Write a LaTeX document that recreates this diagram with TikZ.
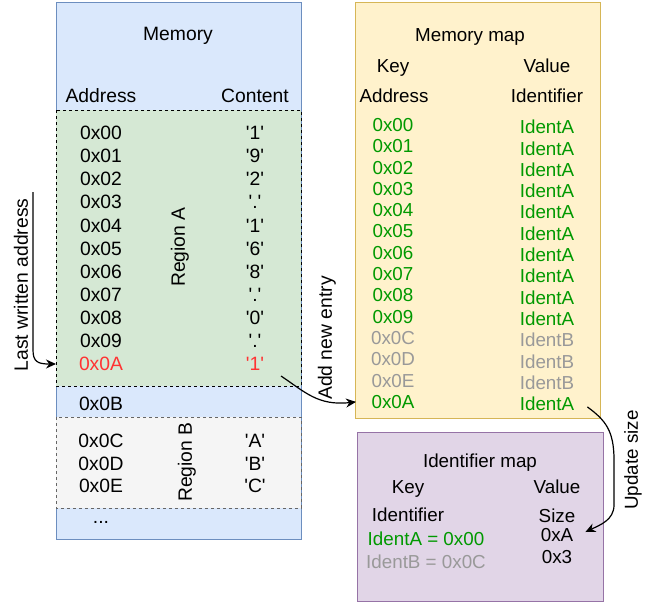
\documentclass[tikz,border=0pt]{standalone}
\usepackage{fontspec}
\setmainfont{Liberation Sans}
\usetikzlibrary{calc,positioning,arrows.meta}
\usepackage{xcolor}
\definecolor{memfill}{HTML}{DAE8FC}
\definecolor{memline}{HTML}{6C8EBF}
\definecolor{regafill}{HTML}{D5E8D4}
\definecolor{regbfill}{HTML}{F5F5F5}
\definecolor{regbline}{HTML}{666666}
\definecolor{mapfill}{HTML}{FFF2CC}
\definecolor{mapline}{HTML}{D6B656}
\definecolor{idfill}{HTML}{E1D5E7}
\definecolor{idline}{HTML}{9673A6}
\definecolor{identa}{HTML}{009900}
\definecolor{identb}{HTML}{999999}
\definecolor{lastred}{HTML}{FF3333}
\newcommand{\sq}{\textquotesingle}

\tikzset{
  txt/.style={inner sep=0pt, font=\fontsize{19.3}{22}\selectfont},
  mtxt/.style={inner sep=0pt, font=\fontsize{18.8}{22}\selectfont},
  flow/.style={line width=1.2pt, -{Stealth[length=10pt,width=9pt]}}
}

\begin{document}
\begin{tikzpicture}[x=1pt,y=-1pt]
\useasboundingbox (0,0) rectangle (652,602);

% Memory column with its two dashed regions
\draw[line width=1pt, draw=memline, fill=memfill] (56,3) rectangle (301,539);
\draw[line width=1pt, dashed, fill=regafill] (56,110) rectangle (301,386);
\draw[line width=1pt, dashed, draw=regbline, fill=regbfill] (56,417) rectangle (301,508);
\coordinate (memwest) at (56,0);
\coordinate (mapwest) at (356,0);

\node[txt] (memtitle) at (178,36) {Memory};
\node[txt] (memaddr) at (101,96) {Address};
\node[txt] (memcont) at (255,96) {Content};

% Region A cells
\foreach \k/\a/\c in {0/0x00/1,1/0x01/9,2/0x02/2,3/0x03/.,4/0x04/1,
                      5/0x05/6,6/0x06/8,7/0x07/.,8/0x08/0,9/0x09/.} {
  \node[txt] (addr\k) at (101,133+23.1*\k) {\a};
  \node[txt] (cont\k) at (255,133+23.1*\k) {\sq\c\sq};
}
\node[txt, text=lastred] (addrlast) at (101,364) {0x0A};
\node[txt, text=lastred] (contlast) at (255,364) {\sq1\sq};
\node[txt, rotate=90] (rega) at (180,247) {Region A};

\node[txt] (addrfree) at (101,404) {0x0B};

% Region B cells
\node[txt] (addrb0) at (101,441) {0x0C};
\node[txt] (addrb1) at (101,463.5) {0x0D};
\node[txt] (addrb2) at (101,486) {0x0E};
\node[txt] (contb0) at (255,441) {\sq A\sq};
\node[txt] (contb1) at (255,463.5) {\sq B\sq};
\node[txt] (contb2) at (255,486) {\sq C\sq};
\node[txt, rotate=90] (regb) at (187,462) {Region B};
\node[txt] (memdots) at (101,522) {...};

% Memory map
\draw[line width=1pt, draw=mapline, fill=mapfill] (355,3) rectangle (600,418);
\node[mtxt] (maptitle) at (470,37) {Memory map};
\node[mtxt] (mapkey) at (393,68) {Key};
\node[mtxt] (mapval) at (547,66) {Value};
\node[mtxt] (mapaddr) at (394,96) {Address};
\node[mtxt] (mapident) at (547,96) {Identifier};
\foreach \k/\a/\v/\col in {0/0x00/IdentA/identa,1/0x01/IdentA/identa,2/0x02/IdentA/identa,
                           3/0x03/IdentA/identa,4/0x04/IdentA/identa,5/0x05/IdentA/identa,
                           6/0x06/IdentA/identa,7/0x07/IdentA/identa,8/0x08/IdentA/identa,
                           9/0x09/IdentA/identa,10/0x0C/IdentB/identb,11/0x0D/IdentB/identb,
                           12/0x0E/IdentB/identb,13/0x0A/IdentA/identa} {
  \node[mtxt, text=\col] (mkey\k) at (393,125+21.3*\k) {\a};
  \node[mtxt, text=\col] (mval\k) at (547,127+21.3*\k) {\v};
}

% Identifier map
\draw[line width=1pt, draw=idline, fill=idfill] (357,432) rectangle (603,601);
\node[mtxt] (idtitle) at (480,463) {Identifier map};
\node[mtxt] (idkey) at (408,489) {Key};
\node[mtxt] (idval) at (557,487) {Value};
\node[mtxt] (idident) at (408,515) {Identifier};
\node[mtxt] (idsize) at (557,516) {Size};
\node[mtxt, text=identa] (ida) at (426,539) {IdentA = 0x00};
\node[mtxt, text=identb] (idb) at (426,562) {IdentB = 0x0C};
\node[mtxt] (sizea) at (557,535) {0xA};
\node[mtxt] (sizeb) at (557,557) {0x3};

% Arrows
\coordinate (lwstart) at (33,192);
\draw[flow] (lwstart) -- (33,350) .. controls (33,362) and (38,364) .. (addrlast -| memwest);
\node[txt, rotate=90] (lwlabel) at (21,285) {Last written address};

\coordinate (addstart) at ($(contlast)+(26,12)$);
\draw[flow] (addstart) .. controls (305,392) and (318,406) .. (mkey13 -| mapwest);
\node[txt, rotate=90] (addlabel) at (327,338) {Add new entry};

\coordinate (updstart) at ($(mval13.east)+(13,3)$);
\draw[flow] (updstart) .. controls (605,420) and (614,430) .. (614,460)
  -- (614,505) .. controls (614,520) and (600,525) .. ($(sizea.east)+(12,-3)$);
\node[mtxt, rotate=90] (updlabel) at (633,460) {Update size};
\end{tikzpicture}
\end{document}
